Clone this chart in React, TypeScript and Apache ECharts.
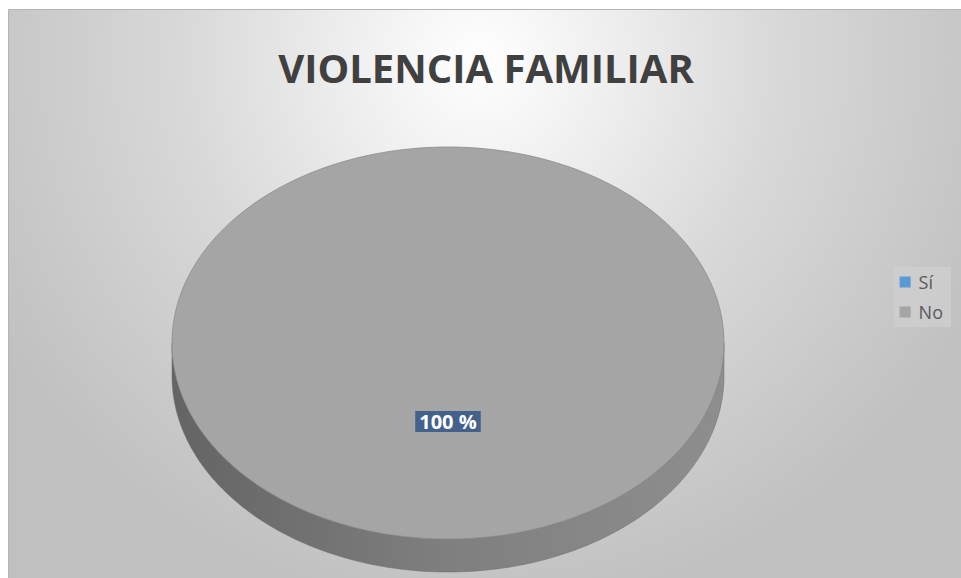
import React, { useEffect, useRef } from "react";
import * as echarts from "echarts";

const TITLE = "VIOLENCIA FAMILIAR";
const categories = ["Sí", "No"];
const values = [0, 100];
const colors = ["#5b9bd5", "#a5a5a5"];

const W = 961;
const H = 578;

function sliceAngles(idx: number) {
  const total = values.reduce((a, b) => a + b, 0) || 1;
  let start = 0;
  for (let i = 0; i < idx; i++) start += values[i];
  const a0 = (start / total) * Math.PI * 2;
  const a1 = ((start + values[idx]) / total) * Math.PI * 2;
  return { a0, a1, pct: (values[idx] / total) * 100 };
}

function makeRenderItem(idx: number) {
  return (params: any, api: any) => {
    const v = api.value(0);
    if (!v) return null;
    const w = api.getWidth();
    const h = api.getHeight();
    const cx = w * (448 / W);
    const cy = h * (343 / H);
    const rx = w * (276 / W);
    const ry = h * (196 / H);
    const depth = 33;
    const { a0, a1, pct } = sliceAngles(idx);
    const full = a1 - a0 >= Math.PI * 2 - 1e-6;
    const pt = (phi: number, dy = 0) => [cx + rx * Math.sin(phi), cy - ry * Math.cos(phi) + dy];
    const N = 240;
    const top: number[][] = [];
    if (!full) top.push([cx, cy]);
    for (let i = 0; i <= N; i++) top.push(pt(a0 + ((a1 - a0) * i) / N));
    const s0 = Math.max(a0, Math.PI / 2);
    const s1 = Math.min(a1, (Math.PI * 3) / 2);
    const children: any[] = [];
    const color = colors[idx];
    if (s1 > s0) {
      const side: number[][] = [];
      for (let i = 0; i <= N; i++) side.push(pt(s0 + ((s1 - s0) * i) / N));
      for (let i = N; i >= 0; i--) side.push(pt(s0 + ((s1 - s0) * i) / N, depth));
      children.push({
        type: "polygon",
        shape: { points: side },
        style: {
          fill: {
            type: "linear",
            x: 0, y: 0, x2: 1, y2: 0,
            colorStops: [
              { offset: 0, color: "#646464" },
              { offset: 0.5, color: "#7f7f7f" },
              { offset: 1, color: "#8e8e8e" },
            ],
          },
          stroke: "#6a6a6a",
          lineWidth: 0.5,
        },
      });
    }
    children.push({
      type: "polygon",
      shape: { points: top },
      style: { fill: color, stroke: "#8c8c8c", lineWidth: 0.8 },
    });
    const mid = (a0 + a1) / 2;
    const lp = [cx + 0.4 * rx * Math.sin(mid), cy - 0.4 * ry * Math.cos(mid)];
    children.push({
      type: "text",
      x: lp[0],
      y: lp[1],
      style: {
        text: `${Math.round(pct)} %`,
        fill: "#ffffff",
        fontSize: 20,
        fontWeight: "bold",
        fontFamily: "Open Sans",
        backgroundColor: "#44618c",
        padding: [1, 4, 0, 4],
        align: "center",
        verticalAlign: "middle",
      },
    });
    return { type: "group", children };
  };
}

export default function App() {
  const ref = useRef<HTMLDivElement>(null);
  useEffect(() => {
    if (!ref.current) return;
    const chart = echarts.init(ref.current, undefined, { renderer: "svg" });
    chart.setOption({
      animation: false,
      graphic: [
        {
          type: "rect",
          z: -10,
          silent: true,
          shape: { x: 8.5, y: 9.5, width: W - 8, height: H - 9 },
          style: {
            fill: {
              type: "radial",
              x: 480,
              y: 60,
              r: 560,
              global: true,
              colorStops: [
                { offset: 0, color: "#ffffff" },
                { offset: 0.27, color: "#ececec" },
                { offset: 0.54, color: "#d8d8d8" },
                { offset: 0.84, color: "#c8c8c8" },
                { offset: 1, color: "#c0c0c0" },
              ],
            },
            stroke: "#b4b4b4",
            lineWidth: 1,
          },
        },
      ],
      title: {
        text: TITLE,
        left: 481,
        textAlign: "center",
        top: 42,
        textStyle: {
          fontFamily: "Open Sans",
          fontWeight: "bold",
          fontSize: 40,
          color: "#404040",
        },
      },
      legend: {
        orient: "vertical",
        right: 10,
        top: 267,
        data: categories,
        icon: "rect",
        itemWidth: 11,
        itemHeight: 11,
        itemGap: 12,
        backgroundColor: "rgba(205,205,205,0.9)",
        padding: [6, 8, 6, 6],
        textStyle: { fontFamily: "Open Sans", fontSize: 18, color: "#595959", padding: [0, 0, 0, 3] },
      },
      series: categories.map((name, i) => ({
        type: "custom",
        name,
        coordinateSystem: "none",
        itemStyle: { color: colors[i] },
        data: [[values[i]]],
        renderItem: makeRenderItem(i),
      })),
    });
    return () => chart.dispose();
  }, []);
  return (
    <div
      ref={ref}
      style={{ position: "absolute", left: 0, top: 0, width: W, height: H }}
    />
  );
}
